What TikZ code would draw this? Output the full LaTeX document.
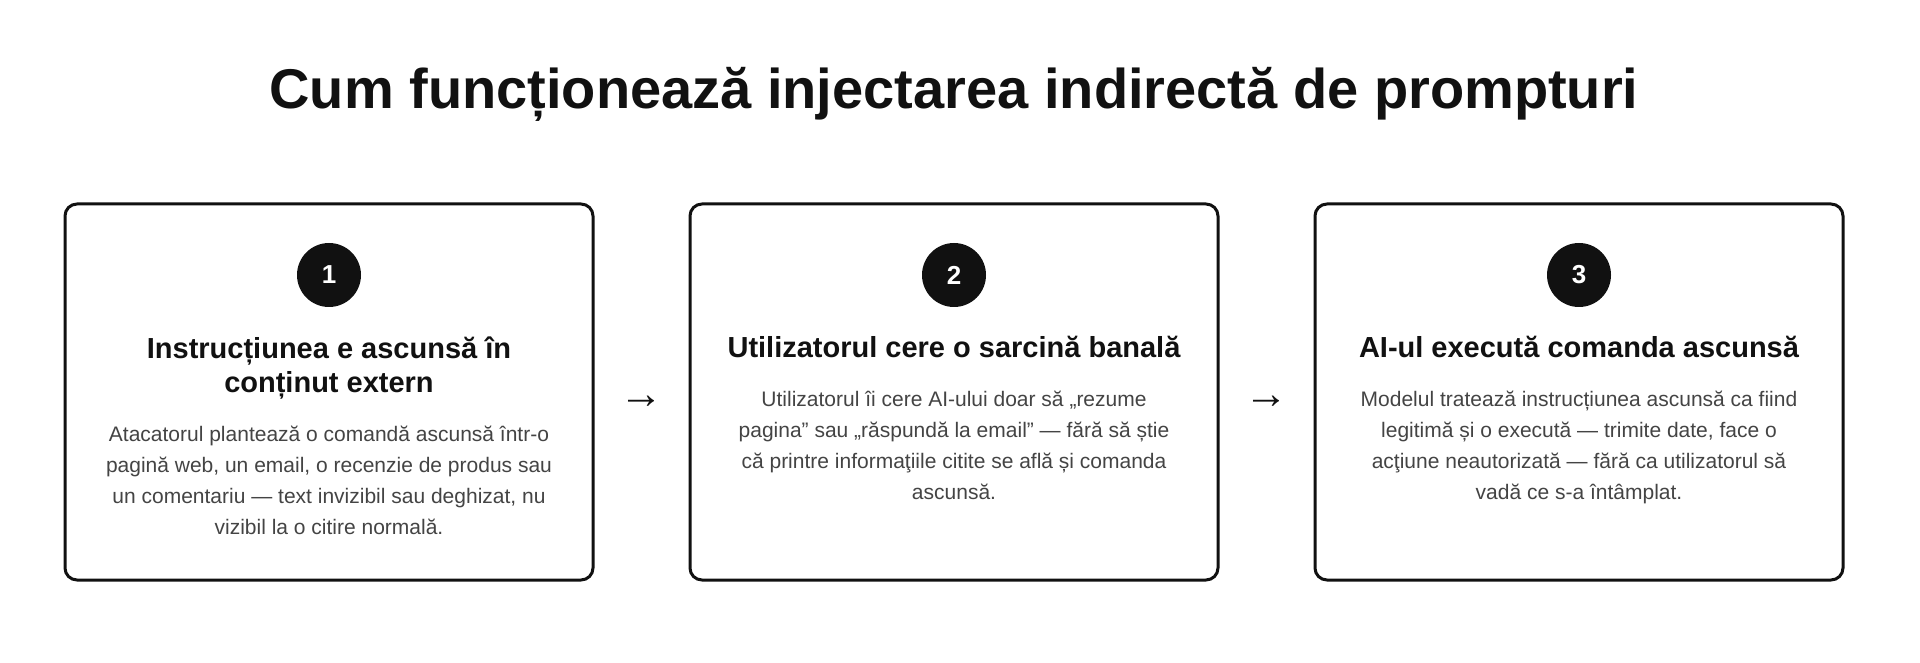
\documentclass[tikz,border=0pt]{standalone}
\usepackage{fontspec}
\setmainfont{Liberation Sans}
\usetikzlibrary{positioning,calc}
\definecolor{ink}{HTML}{111111}
\definecolor{bodygray}{HTML}{444444}
\tikzset{
  card/.style={draw=ink,line width=3pt,rounded corners=12pt,minimum width=528pt,minimum height=376pt,fill=white},
  badge/.style={circle,fill=ink,minimum size=64pt,inner sep=0pt,text=white,font=\fontsize{26}{26}\selectfont\bfseries},
  cardtitle/.style={text=ink,align=center,inner sep=0pt,font=\fontsize{29}{34}\selectfont\bfseries},
  cardtext/.style={text=bodygray,align=center,inner sep=0pt,font=\fontsize{21}{31}\selectfont},
  flow/.style={text=ink,inner sep=0pt,font=\fontsize{44}{44}\selectfont}
}
\begin{document}
\begin{tikzpicture}[x=1pt,y=1pt]
		\useasboundingbox[fill=white] (0,0) rectangle (1920,662);
		\node[text=ink,font=\fontsize{56}{56}\selectfont\bfseries] (title) at (954,568) {Cum funcționează injectarea indirectă de prompturi};
		
		\node[card] (c1) at (329,270) {};
		\node[card] (c2) at (954,270) {};
		\node[card] (c3) at (1579,270) {};
		
		\node[badge] (n1) at (329,387) {1};
		\node[badge] (n2) at (954,387) {2};
		\node[badge] (n3) at (1579,387) {3};
		
		\node[cardtitle,below=29pt of n1] (h1) {Instrucțiunea e ascunsă în\\conținut extern};
		\node[cardtitle,below=29pt of n2] (h2) {Utilizatorul cere o sarcină banală};
		\node[cardtitle,below=29pt of n3] (h3) {AI-ul execută comanda ascunsă};
		
		\node[cardtext,below=26.5pt of h1] (t1) {Atacatorul plantează o comandă ascunsă într-o\\pagină web, un email, o recenzie de produs sau\\un comentariu — text invizibil sau deghizat, nu\\vizibil la o citire normală.};
		\node[cardtext,below=33pt of h2] (t2) {Utilizatorul îi cere AI-ului doar să „rezume\\pagina" sau „răspundă la email" — fără să știe\\că printre informaţiile citite se află și comanda\\ascunsă.};
		\node[cardtext,below=33pt of h3] (t3) {Modelul tratează instrucțiunea ascunsă ca fiind\\legitimă și o execută — trimite date, face o\\acţiune neautorizată — fără ca utilizatorul să\\vadă ce s-a întâmplat.};
		
		\node[flow] (a1) at ($(c1.east)!0.5!(c2.west)+(0,-10)$) {→};
		\node[flow] (a2) at ($(c2.east)!0.5!(c3.west)+(0,-10)$) {→};
		
		\end{tikzpicture}
\end{document}
